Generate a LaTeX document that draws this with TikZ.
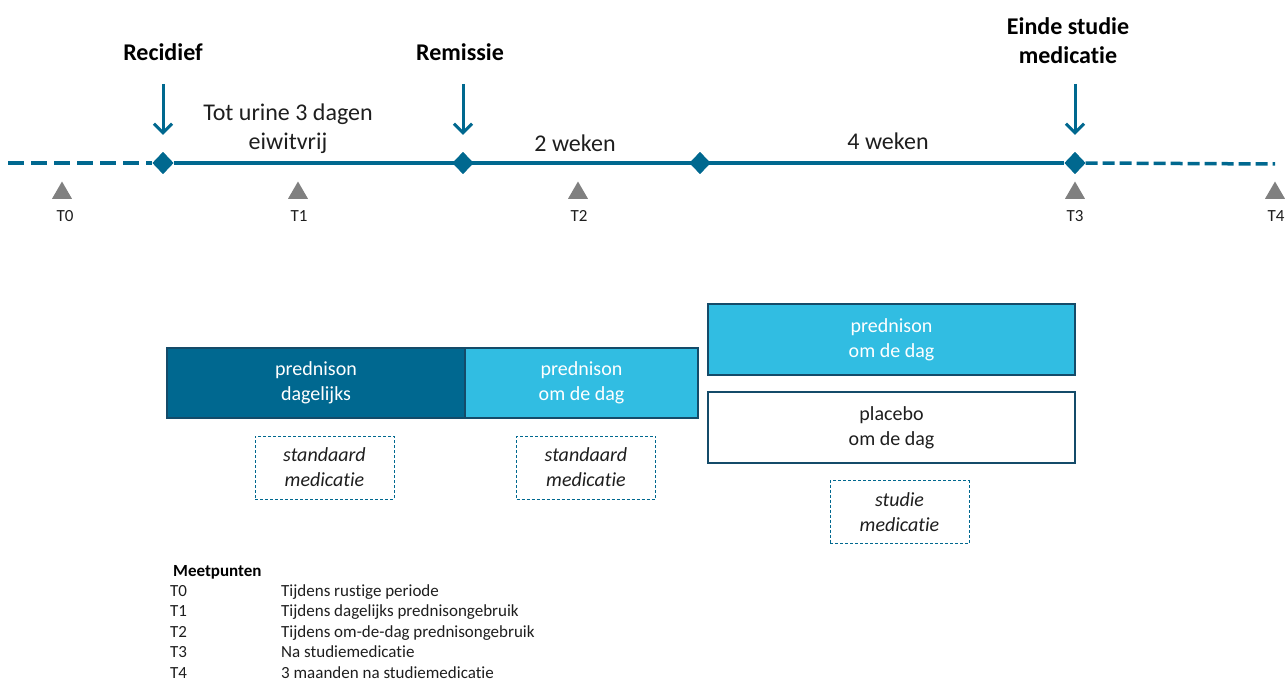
\documentclass[tikz,border=0pt]{standalone}
\usepackage{fontspec}
\setmainfont{Carlito}[Ligatures=NoCommon]
\usetikzlibrary{arrows.meta}
\usetikzlibrary{shapes}

\definecolor{tline}{RGB}{0,104,143}
\definecolor{dblue}{RGB}{0,104,144}
\definecolor{lblue}{RGB}{49,189,226}
\definecolor{bord}{RGB}{20,75,105}
\definecolor{tgray}{RGB}{128,128,128}
\definecolor{ink}{RGB}{30,30,30}

\begin{document}
\begin{tikzpicture}[x=1pt,y=-1pt,
    tl/.style={line width=3.5pt, tline},
    dia/.style={diamond, fill=tline, inner sep=0pt, minimum width=21pt, minimum height=22pt},
    tri/.style={regular polygon, regular polygon sides=3, fill=tgray, inner sep=0pt, minimum size=23pt},
    tlab/.style={font=\fontsize{17}{20}\selectfont, text=ink},
    head/.style={font=\fontsize{24}{29}\selectfont\bfseries, align=center, text=black},
    per/.style={font=\fontsize{24}{29}\selectfont, align=center, text=ink},
    medbox/.style={draw=bord, line width=2.5pt, minimum height=70pt, align=center, inner sep=0pt, font=\fontsize{20}{25}\selectfont},
    notebox/.style={draw=tline, dash pattern=on 3pt off 2pt, line width=1pt, minimum width=139pt, minimum height=63pt, align=center, inner sep=0pt, text=ink, font=\fontsize{20}{25}\selectfont\itshape},
    down/.style={-{Straight Barb[length=9pt,width=18pt]}, line width=3pt, tline},
    lrow/.style={anchor=west, inner sep=0pt, text height=12pt, text depth=3pt, text=ink, font=\fontsize{17}{20}\selectfont}
]
    \useasboundingbox (0,0) rectangle (1288,682);

    % timeline
    \path (163,163) node[dia] (d1) {} (463,163) node[dia] (d2) {}
          (700,163) node[dia] (d3) {} (1075,163) node[dia] (d4) {};
    \coordinate (lft) at (8,163);
    \coordinate (rgt) at (1275,164);
    \draw[tl, dash pattern=on 16pt off 7pt] (lft) -- (d1.west);
    \draw[tl] (d1) -- (d4);
    \draw[tl, dash pattern=on 12pt off 5pt] (d4.east) -- (rgt);
    \node[dia] at (d1) {};
    \node[dia] at (d2) {};
    \node[dia] at (d3) {};
    \node[dia] at (d4) {};

    \node[head] (rec) at (163,52) {Recidief};
    \node[head] (rem) at (460,52) {Remissie};
    \node[head] (eind) at (1068,41) {Einde studie\\medicatie};
    \coordinate (a1) at (163,84);
    \coordinate (a2) at (463,84);
    \coordinate (a4) at (1075,84);
    \draw[down] (a1) -- ([yshift=17pt]d1.north);
    \draw[down] (a2) -- ([yshift=17pt]d2.north);
    \draw[down] (a4) -- ([yshift=17pt]d4.north);

    \node[per] (p1) at (288,129) {Tot urine 3 dagen\\eiwitvrij};
    \node[per] (p2) at (575,143) {2 weken};
    \node[per] (p3) at (888,141) {4 weken};

    \node[tri] (t0) at (62,193) {};
    \node[tri] (t1) at (298,193) {};
    \node[tri] (t2) at (578,193) {};
    \node[tri] (t3) at (1075,193) {};
    \node[tri] (t4) at (1275,193) {};
    \node[tlab] (l0) at (65,216) {T0};
    \node[tlab] (l1) at (299,216) {T1};
    \node[tlab] (l2) at (579,216) {T2};
    \node[tlab] (l3) at (1075,216) {T3};
    \node[tlab] (l4) at (1276,216) {T4};

    % medication
    \node[medbox, fill=dblue, text=white, minimum width=298pt] (dag) at (316,383) {prednison\\dagelijks};
    \node[medbox, fill=lblue, text=white, minimum width=233pt] (omd) at (581.5,383) {prednison\\om de dag};
    \node[medbox, fill=lblue, text=white, minimum width=367pt, minimum height=71pt] (stp) at (891.5,339.5) {prednison\\om de dag};
    \node[medbox, fill=white, text=ink, minimum width=367pt, minimum height=71pt] (plc) at (891.5,427.5) {placebo\\om de dag};

    \node[notebox] (n1) at (324.5,467.5) {standaard\\medicatie};
    \node[notebox] (n2) at (586,467.5) {standaard\\medicatie};
    \node[notebox] (n3) at (899.5,512) {studie\\medicatie};

    % legend
    \node[lrow, font=\fontsize{17}{20}\selectfont\bfseries, text=black] (leg) at (173,572) {Meetpunten};
    \node[lrow] (r0) at (170,592) {T0};
    \node[lrow] (r1) at (170,612) {T1};
    \node[lrow] (r2) at (170,633) {T2};
    \node[lrow] (r3) at (170,653) {T3};
    \node[lrow] (r4) at (170,674) {T4};
    \node[lrow] (s0) at (281,592) {Tijdens rustige periode};
    \node[lrow] (s1) at (281,612) {Tijdens dagelijks prednisongebruik};
    \node[lrow] (s2) at (281,633) {Tijdens om-de-dag prednisongebruik};
    \node[lrow] (s3) at (281,653) {Na studiemedicatie};
    \node[lrow] (s4) at (281,674) {3 maanden na studiemedicatie};
\end{tikzpicture}
\end{document}
